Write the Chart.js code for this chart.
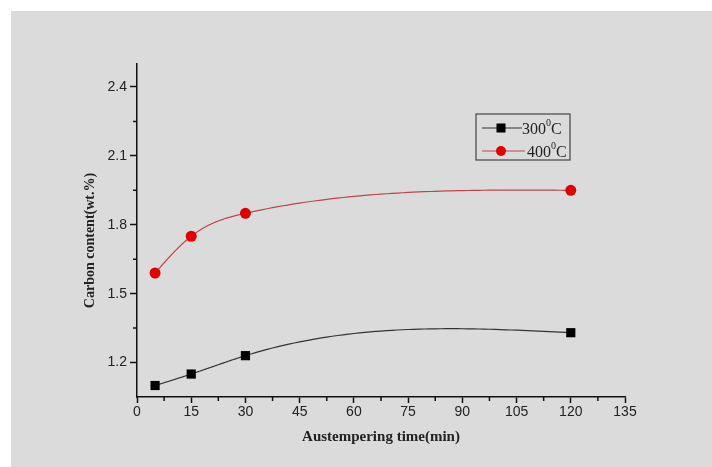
<!DOCTYPE html>
<html>
<head>
<meta charset="utf-8">
<script src="https://cdn.jsdelivr.net/npm/chart.js@4"></script>
<style>
  html, body { margin: 0; padding: 0; background: #ffffff; }
  #wrap { position: relative; width: 712px; height: 467px; background: #ffffff; }
  #panel { position: absolute; left: 11px; top: 11px; right: 0; bottom: 0; background: #dbdbdb; }
  canvas { position: absolute; left: 0; top: 0; }
</style>
</head>
<body>
<div id="wrap">
  <div id="panel"></div>
  <canvas id="chart" width="712" height="467"></canvas>
</div>
<script>
// austempering time (min) and carbon content (wt.%) for both temperatures
const times = [5, 15, 30, 120];
const carbon300 = [1.10, 1.15, 1.23, 1.33];
const carbon400 = [1.59, 1.75, 1.85, 1.95];
const seriesLabels = ["300⁰C", "400⁰C"];
const xTicks = [0, 15, 30, 45, 60, 75, 90, 105, 120, 135];
const yTicks = [1.2, 1.5, 1.8, 2.1, 2.4];
const xTitle = "Austempering time(min)";
const yTitle = "Carbon content(wt.%)";

const toPoints = ys => times.map((t, i) => ({ x: t, y: ys[i] }));

// natural cubic spline second derivatives for points xs/ys
function splineM(xs, ys) {
  const n = xs.length;
  const h = [], d = [];
  for (let i = 0; i < n - 1; i++) {
    h.push(xs[i + 1] - xs[i]);
    d.push((ys[i + 1] - ys[i]) / h[i]);
  }
  // tridiagonal system for interior points
  const a = [], b = [], c = [], r = [];
  for (let i = 1; i < n - 1; i++) {
    a.push(h[i - 1]);
    b.push(2 * (h[i - 1] + h[i]));
    c.push(h[i]);
    r.push(6 * (d[i] - d[i - 1]));
  }
  const m = r.length;
  for (let i = 1; i < m; i++) {
    const w = a[i] / b[i - 1];
    b[i] -= w * c[i - 1];
    r[i] -= w * r[i - 1];
  }
  const sol = new Array(m);
  for (let i = m - 1; i >= 0; i--) {
    sol[i] = (r[i] - (i < m - 1 ? c[i] * sol[i + 1] : 0)) / b[i];
  }
  return [0, ...sol, 0];
}

// smooth line through each series, drawn under the markers
const splineLines = {
  id: "splineLines",
  beforeDatasetsDraw(chart) {
    const ctx = chart.ctx;
    const xs = chart.scales.x, ys = chart.scales.y;
    const area = chart.chartArea;
    ctx.save();
    ctx.beginPath();
    ctx.rect(area.left, area.top, area.right - area.left, area.bottom - area.top);
    ctx.clip();
    chart.data.datasets.forEach(ds => {
      const px = ds.data.map(p => p.x), py = ds.data.map(p => p.y);
      const M = splineM(px, py);
      ctx.strokeStyle = ds.borderColor;
      ctx.lineWidth = ds.borderWidth;
      ctx.beginPath();
      ctx.moveTo(xs.getPixelForValue(px[0]), ys.getPixelForValue(py[0]));
      for (let i = 0; i < px.length - 1; i++) {
        const h = px[i + 1] - px[i];
        const steps = 60;
        for (let s = 1; s <= steps; s++) {
          const t = (s / steps) * h;
          const u = h - t;
          const v = M[i] * u * u * u / (6 * h) + M[i + 1] * t * t * t / (6 * h)
            + (py[i] / h - M[i] * h / 6) * u + (py[i + 1] / h - M[i + 1] * h / 6) * t;
          ctx.lineTo(xs.getPixelForValue(px[i] + t), ys.getPixelForValue(v));
        }
      }
      ctx.stroke();
    });
    ctx.restore();
  }
};

// short minor ticks halfway between the labelled ones
const minorTicks = {
  id: "minorTicks",
  afterDraw(chart) {
    const ctx = chart.ctx;
    const xs = chart.scales.x, ys = chart.scales.y;
    ctx.save();
    ctx.strokeStyle = "#111";
    ctx.lineWidth = 1.5;
    ctx.beginPath();
    for (let i = 0; i < xTicks.length - 1; i++) {
      const px = xs.getPixelForValue((xTicks[i] + xTicks[i + 1]) / 2);
      ctx.moveTo(px, xs.top);
      ctx.lineTo(px, xs.top + 4);
    }
    for (let i = 0; i < yTicks.length - 1; i++) {
      const py = ys.getPixelForValue((yTicks[i] + yTicks[i + 1]) / 2);
      ctx.moveTo(ys.right, py);
      ctx.lineTo(ys.right - 4, py);
    }
    ctx.stroke();
    ctx.restore();
  }
};

// axis titles in bold serif
const axisTitles = {
  id: "axisTitles",
  afterDraw(chart) {
    const ctx = chart.ctx;
    const area = chart.chartArea;
    ctx.save();
    ctx.fillStyle = "#222";
    ctx.textAlign = "center";
    ctx.textBaseline = "middle";
    ctx.font = "bold 15px 'Liberation Serif'";
    ctx.fillText(xTitle, (area.left + area.right) / 2, 437);
    ctx.translate(90, area.top + (area.bottom - area.top) / 2 + 10);
    ctx.rotate(-Math.PI / 2);
    ctx.font = "bold 14px 'Liberation Serif'";
    ctx.fillText(yTitle, 0, 0);
    ctx.restore();
  }
};

// boxed legend with line + marker samples, superscript "0" in the labels
const boxLegend = {
  id: "boxLegend",
  afterDraw(chart) {
    const ctx = chart.ctx;
    const area = chart.chartArea;
    const bx = area.right - 149, by = area.top + 50, bw = 94, bh = 46;
    ctx.save();
    ctx.strokeStyle = "#444";
    ctx.lineWidth = 1.2;
    ctx.strokeRect(bx, by, bw, bh);
    chart.data.datasets.forEach((ds, i) => {
      const ly = by + 14 + i * 23;
      ctx.strokeStyle = ds.borderColor;
      ctx.lineWidth = 1.2;
      ctx.beginPath();
      ctx.moveTo(bx + 6, ly);
      ctx.lineTo(bx + 46 + i * 3, ly);
      ctx.stroke();
      ctx.fillStyle = ds.pointBackgroundColor;
      if (ds.pointStyle === "rect") {
        ctx.fillRect(bx + 25 - 4.5, ly - 4.5, 9, 9);
      } else {
        ctx.beginPath();
        ctx.arc(bx + 25, ly, 5, 0, Math.PI * 2);
        ctx.fill();
      }
      const parts = ds.label.split("⁰");
      let tx = bx + 46 + i * 5;
      ctx.fillStyle = "#222";
      ctx.textBaseline = "alphabetic";
      ctx.textAlign = "left";
      ctx.font = "16px 'Liberation Serif'";
      ctx.fillText(parts[0], tx, ly + 6);
      tx += ctx.measureText(parts[0]).width;
      ctx.font = "10px 'Liberation Serif'";
      ctx.fillText("0", tx, ly - 2);
      tx += ctx.measureText("0").width;
      ctx.font = "16px 'Liberation Serif'";
      ctx.fillText(parts[1], tx, ly + 6);
    });
    ctx.restore();
  }
};

new Chart(document.getElementById("chart").getContext("2d"), {
  type: "line",
  data: {
    datasets: [
      {
        label: seriesLabels[0],
        data: toPoints(carbon300),
        showLine: false,
        borderColor: "#333333",
        borderWidth: 1.2,
        pointStyle: "rect",
        pointRadius: 6.5,
        pointBackgroundColor: "#000000",
        pointBorderColor: "#000000",
        pointBorderWidth: 0
      },
      {
        label: seriesLabels[1],
        data: toPoints(carbon400),
        showLine: false,
        borderColor: "#c0444c",
        borderWidth: 1.2,
        pointStyle: "circle",
        pointRadius: 5.5,
        pointBackgroundColor: "#e00000",
        pointBorderColor: "#e00000",
        pointBorderWidth: 0
      }
    ]
  },
  options: {
    responsive: false,
    animation: false,
    events: [],
    layout: { padding: { top: 64, right: 87, left: 0, bottom: 0 } },
    plugins: {
      legend: { display: false },
      tooltip: { enabled: false }
    },
    scales: {
      x: {
        type: "linear",
        min: 0,
        max: 135,
        afterBuildTicks: scale => { scale.ticks = xTicks.map(v => ({ value: v })); },
        afterFit: scale => { scale.height = 70; },
        border: { display: true, color: "#111", width: 1.5 },
        grid: { drawOnChartArea: false, tickLength: 6, tickColor: "#111", tickWidth: 1.5 },
        ticks: {
          padding: 1,
          color: "#222",
          font: { family: "'Liberation Sans'", size: 14 },
          maxRotation: 0
        }
      },
      y: {
        type: "linear",
        min: 1.05,
        max: 2.5,
        afterBuildTicks: scale => { scale.ticks = yTicks.map(v => ({ value: v })); },
        afterFit: scale => { scale.width = 137; },
        border: { display: true, color: "#111", width: 1.5 },
        grid: { drawOnChartArea: false, tickLength: 7, tickColor: "#111", tickWidth: 1.5 },
        ticks: {
          padding: 3,
          color: "#222",
          font: { family: "'Liberation Sans'", size: 14 },
          callback: v => v.toFixed(1)
        }
      }
    }
  },
  plugins: [splineLines, minorTicks, axisTitles, boxLegend]
});
</script>
</body>
</html>
